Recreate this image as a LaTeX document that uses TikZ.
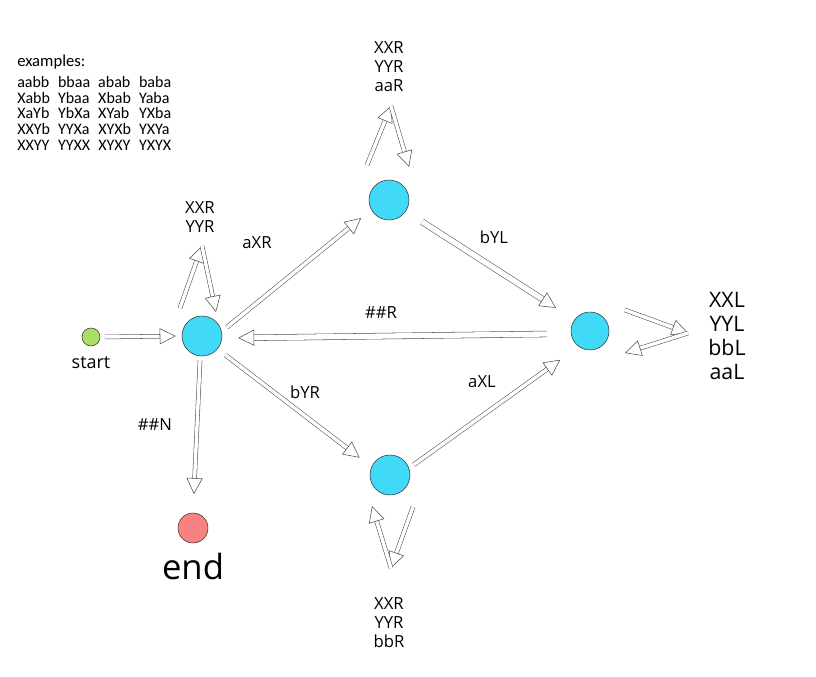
\documentclass[tikz,border=0pt]{standalone}
\usepackage{fontspec}
\setmainfont{Open Sans}
\newfontfamily\exfont{Carlito}
\usetikzlibrary{arrows.meta,positioning}
\definecolor{stateblue}{RGB}{64,218,248}
\definecolor{startgreen}{RGB}{170,222,100}
\definecolor{endred}{RGB}{248,130,130}

\begin{document}
\begin{tikzpicture}[
    x=0.75pt, y=-0.75pt,
    state/.style={draw=black!80, circle, fill=stateblue, minimum size=30pt, inner sep=0pt},
    hollow/.style={draw=black!70, line width=0.4pt, double=white, double distance=2.6pt,
        -{Triangle[open, length=12pt, width=12pt]}},
    elabel/.style={font=\fontsize{12.5}{14}\selectfont},
    loops/.style={align=center, font=\fontsize{12.5}{14.2}\selectfont}
]
\useasboundingbox (0,0) rectangle (816,677);

% States
\node[draw=black!80, circle, fill=startgreen, minimum size=13.5pt, inner sep=0pt] (start) at (91,337) {};
\node[below=4pt of start, font=\fontsize{13.5}{15}\selectfont] (startlbl) {start};
\node[state] (A) at (202,336) {};
\node[state] (B) at (389,200) {};
\node[state, minimum size=28.5pt] (C) at (590,331) {};
\node[state] (D) at (390,475) {};
\node[draw=black!80, circle, fill=endred, minimum size=22.5pt, inner sep=0pt] (end) at (193,528) {};
\node[below=4pt of end, font=\fontsize{26}{28}\selectfont] (endlbl) {end};

% Main arrows
\draw[hollow, shorten <=3.5pt, shorten >=4.5pt] (start.east) -- (A.west);
\draw[hollow, shorten <=5pt, shorten >=9.8pt] (A.13) -- (B.209);
\draw[hollow, double distance=4pt, shorten <=14.5pt, shorten >=16.4pt] (B.-34) -- (C.144);
\draw[hollow, double distance=4pt, shorten <=18pt, shorten >=12pt] (C.188) -- (A.-6);
\draw[hollow, shorten <=7.5pt, shorten >=11.2pt] (A.-40) -- (D.156);
\draw[hollow, shorten <=4.2pt, shorten >=17pt] (D.20) -- (C.-126);
\draw[hollow, shorten <=3pt, shorten >=14pt] (A.-95) -- (end.north);

% Arrow labels
\node[elabel] (aXR) at (257,243) {aXR};
\node[elabel] (bYL) at (494,237) {bYL};
\node[elabel] (hhR) at (381,313) {\#\#R};
\node[elabel] (bYR) at (305,392) {bYR};
\node[elabel] (aXL) at (482,382) {aXL};
\node[elabel] (hhN) at (155,425) {\#\#N};

% Self loops
\coordinate (Aout) at (180,308);
\coordinate (Aapex) at (202,246);
\coordinate (Ain) at (216,312);
\draw[hollow] (Aout) -- (Aapex);
\draw[hollow] (Aapex) -- (Ain);
\node[loops] (Aloop) at (200,217) {XXR\\YYR};

\coordinate (Bout) at (367,165);
\coordinate (Bapex) at (391,106);
\coordinate (Bin) at (409,167);
\draw[hollow] (Bout) -- (Bapex);
\draw[hollow] (Bapex) -- (Bin);
\node[loops] (Bloop) at (389,67) {XXR\\YYR\\aaR};

\coordinate (Cout) at (625,310);
\coordinate (Capex) at (688,333);
\coordinate (Cin) at (625,353);
\draw[hollow] (Cout) -- (Capex);
\draw[hollow] (Capex) -- (Cin);
\node[loops, font=\fontsize{16}{18}\selectfont] (Cloop) at (727,336) {XXL\\YYL\\bbL\\aaL};

\coordinate (Dout) at (413,507);
\coordinate (Dapex) at (391,568);
\coordinate (Din) at (372,506);
\draw[hollow] (Dout) -- (Dapex);
\draw[hollow] (Dapex) -- (Din);
\node[loops] (Dloop) at (389,623) {XXR\\YYR\\bbR};

% Examples
\node[anchor=north west, inner sep=0pt, align=left, font=\exfont\fontsize{12}{11.6}\selectfont] (examples) at (17,55) {
    {\fontsize{12.5}{14}\selectfont examples:}\\[4pt]
    \begin{tabular}{@{}l@{\hspace{6pt}}l@{\hspace{6pt}}l@{\hspace{6pt}}l@{}}
    aabb & bbaa & abab & baba\\
    Xabb & Ybaa & Xbab & Yaba\\
    XaYb & YbXa & XYab & YXba\\
    XXYb & YYXa & XYXb & YXYa\\
    XXYY & YYXX & XYXY & YXYX
    \end{tabular}
};

\end{tikzpicture}
\end{document}
